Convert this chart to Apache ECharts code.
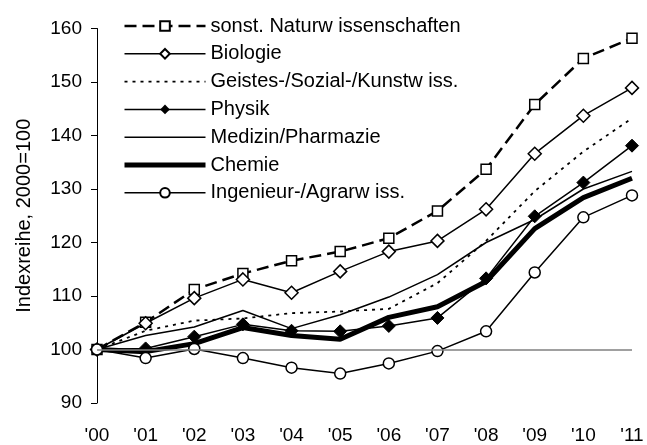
<!DOCTYPE html>
<html>
<head>
<meta charset="utf-8">
<script src="https://cdn.jsdelivr.net/npm/echarts@6/dist/echarts.min.js"></script>
<style>
  html, body { margin: 0; padding: 0; background: #fff; }
  #chart { width: 647px; height: 445px; }
</style>
</head>
<body>
<div id="chart"></div>
<script>
// Jahre und Indexwerte (2000=100)
const years = ["'00", "'01", "'02", "'03", "'04", "'05", "'06", "'07", "'08", "'09", "'10", "'11"];
const naturw = [100, 105.1, 111.2, 114.2, 116.6, 118.3, 120.8, 125.9, 133.7, 145.8, 154.4, 158.2];
const biologie = [100, 104.9, 109.6, 113.1, 110.6, 114.6, 118.3, 120.3, 126.2, 136.6, 143.7, 148.9];
const geistes = [100, 103.5, 105.4, 105.8, 106.8, 107.1, 107.6, 112.4, 120.3, 129.6, 137.0, 143.2];
const physik = [100, 100.2, 102.4, 104.7, 103.5, 103.4, 104.4, 105.9, 113.3, 124.9, 131.2, 138.1];
const medizin = [100, 102.6, 104.2, 107.3, 103.9, 106.5, 109.8, 114.0, 120.0, 124.3, 130.0, 133.3];
const chemie = [100, 99.6, 101.1, 104.1, 102.6, 101.9, 106.0, 108.0, 112.7, 122.6, 128.4, 132.0];
const ingenieur = [100, 98.4, 100.1, 98.4, 96.6, 95.5, 97.4, 99.7, 103.4, 114.4, 124.7, 128.8];

const names = [
  'sonst. Naturw issenschaften',
  'Biologie',
  'Geistes-/Sozial-/Kunstw iss.',
  'Physik',
  'Medizin/Pharmazie',
  'Chemie',
  'Ingenieur-/Agrarw iss.'
];
// Reihen ohne Marker: im Legendeneintrag nur die Linie zeigen
const noMarker = [names[2], names[4], names[5]];
const widths = [2.5, 1.5, 1.8, 1.5, 1.5, 5, 1.5];

const font = 'Liberation Sans, Arial, sans-serif';
const chart = echarts.init(document.getElementById('chart'));

const hollow = { color: '#fff', borderColor: '#000', borderWidth: 1.5 };

chart.setOption({
  animation: false,
  backgroundColor: '#fff',
  grid: { left: 97, right: 15, top: 28.5, bottom: 41 },
  legend: {
    data: names.map((n, i) => {
      const item = { name: n, lineStyle: { width: widths[i] } };
      if (noMarker.includes(n)) item.itemStyle = { opacity: 0 };
      return item;
    }),
    orient: 'vertical',
    left: 122,
    top: 16,
    padding: 0,
    itemWidth: 81,
    itemHeight: 12,
    itemGap: 7.8,
    textStyle: { fontFamily: font, fontSize: 20, color: '#000' }
  },
  xAxis: {
    type: 'category',
    data: years,
    boundaryGap: false,
    axisLine: { show: false },
    axisTick: { show: false },
    axisLabel: { fontFamily: font, fontSize: 19, color: '#000', margin: 23 }
  },
  yAxis: {
    type: 'value',
    min: 90,
    max: 160,
    interval: 10,
    name: 'Indexreihe, 2000=100',
    nameLocation: 'middle',
    nameGap: 63,
    nameTextStyle: { fontFamily: font, fontSize: 20, color: '#000' },
    axisLine: { show: true, lineStyle: { color: '#000', width: 1 } },
    axisTick: { show: true, length: 6, lineStyle: { color: '#000' } },
    axisLabel: { fontFamily: font, fontSize: 19, color: '#000', margin: 15 },
    splitLine: { show: false }
  },
  series: [
    {
      name: 'basis',
      type: 'line',
      data: [],
      z: 1,
      markLine: {
        silent: true,
        symbol: 'none',
        label: { show: false },
        lineStyle: { color: '#808080', width: 1.5, type: 'solid' },
        data: [{ yAxis: 100 }]
      }
    },
    {
      name: names[0], type: 'line', data: naturw,
      symbol: 'rect', symbolSize: 10,
      lineStyle: { color: '#000', width: widths[0], type: [12, 6] },
      itemStyle: hollow
    },
    {
      name: names[1], type: 'line', data: biologie,
      symbol: 'diamond', symbolSize: 13,
      lineStyle: { color: '#000', width: widths[1] },
      itemStyle: hollow
    },
    {
      name: names[2], type: 'line', data: geistes,
      symbol: 'none',
      lineStyle: { color: '#000', width: widths[2], type: [3, 5] },
      itemStyle: { color: '#000' }
    },
    {
      name: names[3], type: 'line', data: physik,
      symbol: 'diamond', symbolSize: 13,
      lineStyle: { color: '#000', width: widths[3] },
      itemStyle: { color: '#000', borderColor: '#000' }
    },
    {
      name: names[4], type: 'line', data: medizin,
      symbol: 'none',
      lineStyle: { color: '#000', width: widths[4] },
      itemStyle: { color: '#000' }
    },
    {
      name: names[5], type: 'line', data: chemie,
      symbol: 'none',
      lineStyle: { color: '#000', width: widths[5] },
      itemStyle: { color: '#000' }
    },
    {
      name: names[6], type: 'line', data: ingenieur,
      symbol: 'circle', symbolSize: 11,
      lineStyle: { color: '#000', width: widths[6] },
      itemStyle: hollow
    }
  ]
});
</script>
</body>
</html>
